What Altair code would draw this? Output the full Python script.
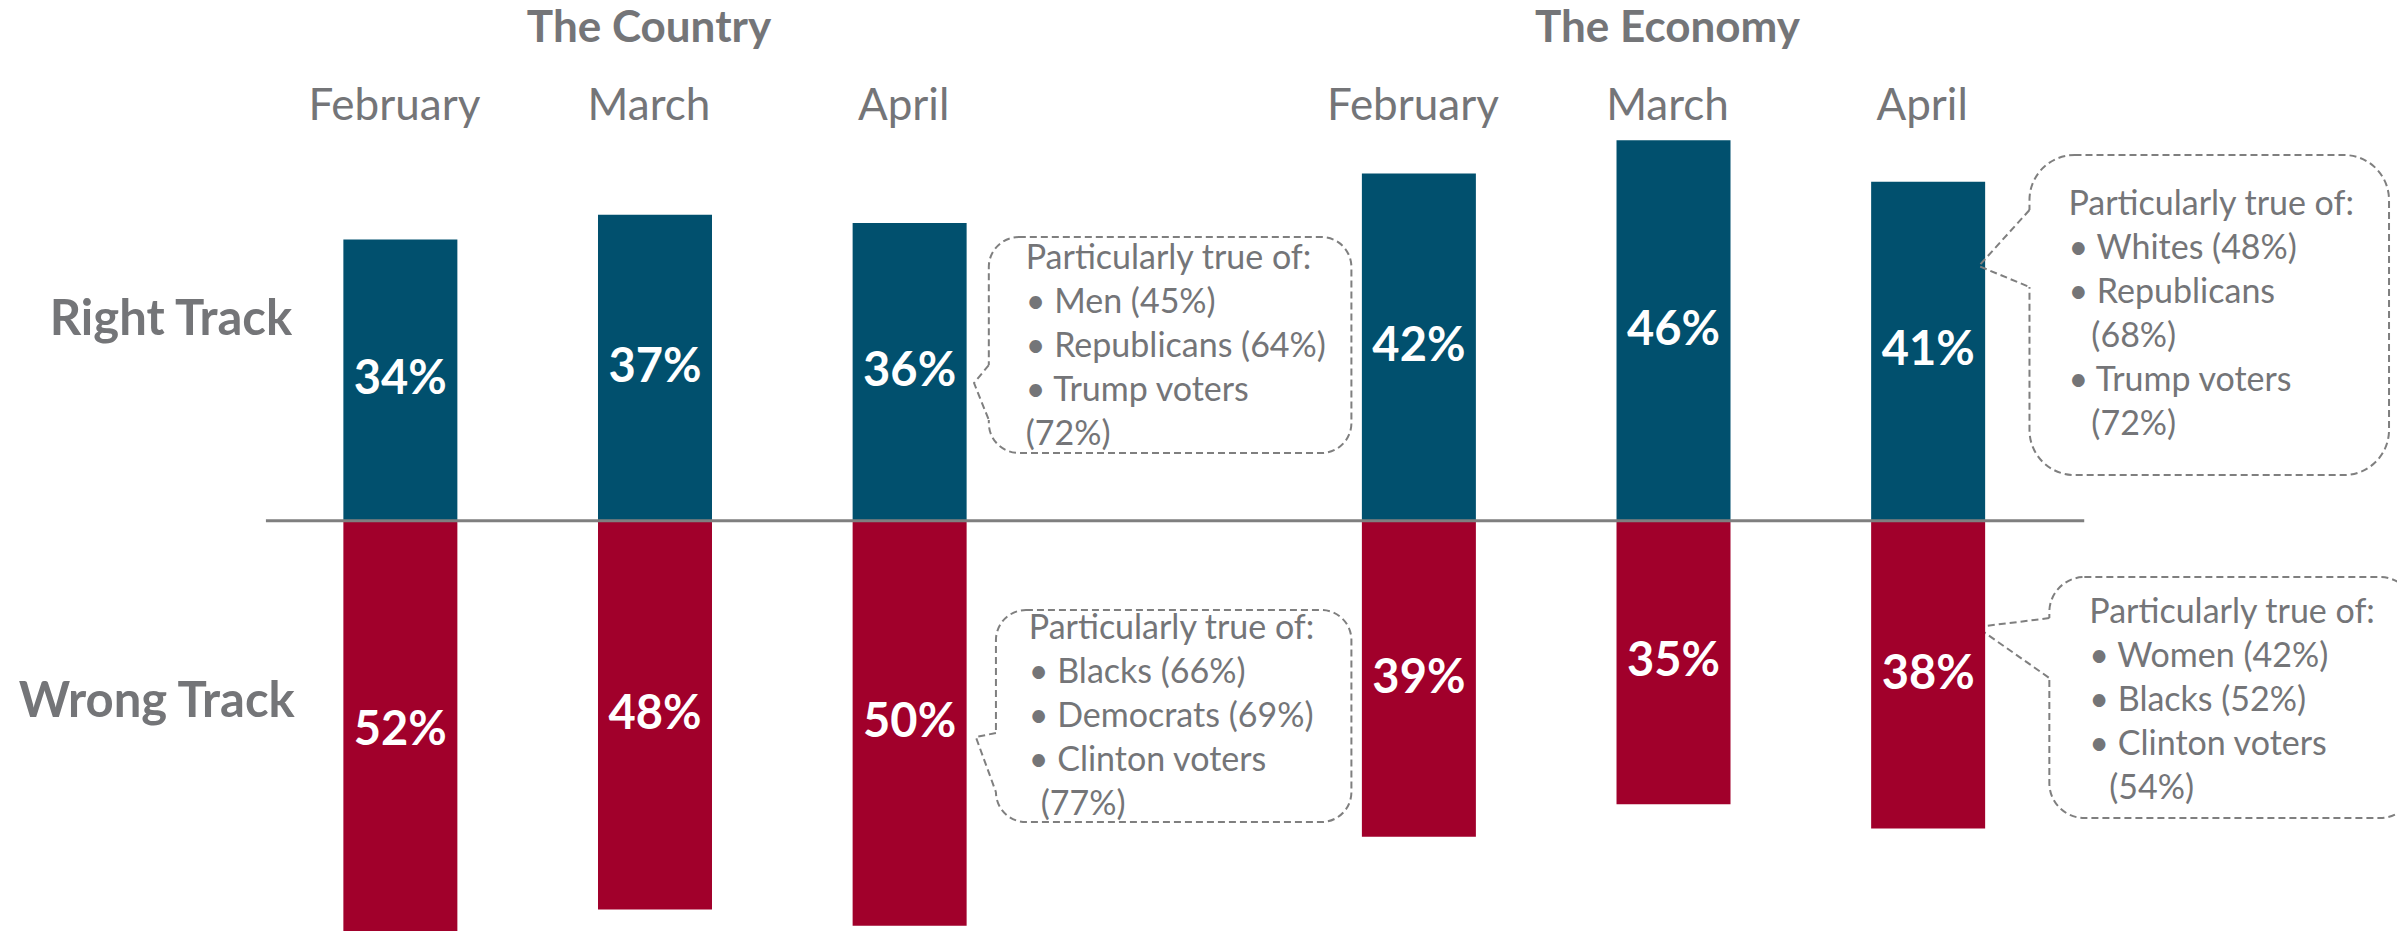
import altair as alt
import pandas as pd

# ---------------- data ----------------
months = ["February", "March", "April"]
groups = ["The Country", "The Economy"]
country_right = [34, 37, 36]
country_wrong = [52, 48, 50]
economy_right = [42, 46, 41]
economy_wrong = [39, 35, 38]
row_labels = ["Right Track", "Wrong Track"]

# callout lines; (text, indented continuation?)
callout_country_right = [("Particularly true of:", False), ("• Men (45%)", False), ("• Republicans (64%)", False),
                         ("• Trump voters", False), ("(72%)", False)]
callout_country_wrong = [("Particularly true of:", False), ("• Blacks (66%)", False), ("• Democrats (69%)", False),
                         ("• Clinton voters", False), ("(77%)", True)]
callout_economy_right = [("Particularly true of:", False), ("• Whites (48%)", False), ("• Republicans", False),
                         ("(68%)", True), ("• Trump voters", False), ("(72%)", True)]
callout_economy_wrong = [("Particularly true of:", False), ("• Women (42%)", False), ("• Blacks (52%)", False),
                         ("• Clinton voters", False), ("(54%)", True)]

# slot index of each bar (slot 3 is the gap between the two groups)
country_slots = [0, 1, 2]
economy_slots = [4, 5, 6]

# ---------------- style ----------------
BLUE = "#01506E"
RED = "#A1002B"
GRAY_TXT = "#747578"
GRAY_LINE = "#7F7F7F"
BOX_LINE = "#7F7F7F"
FONT = "Lato"
W, H = 2389, 923
PX_PER_SLOT = 255.7
PX_PER_PCT = 8.27
LINE_H = 44.0

xs = alt.Scale(domain=[-1.5213, 7.8217], nice=False, zero=False)
ysA = alt.Scale(domain=[-49.61, 62.0], nice=False, zero=False)   # right-track scale
ysB = alt.Scale(domain=[-50.65, 63.30], nice=False, zero=False)  # wrong-track scale


def xq(f):
    return alt.X(f, type="quantitative", scale=xs, axis=None)


def yA(f):
    return alt.Y(f, type="quantitative", scale=ysA, axis=None)


def yB(f):
    return alt.Y(f, type="quantitative", scale=ysB, axis=None)


# ---------------- tables ----------------
right_df = pd.DataFrame({
    "slot": country_slots + economy_slots,
    "value": country_right + economy_right,
    "month": months * 2,
})
right_df["zero"] = 0
right_df["label"] = right_df["value"].astype(str) + "%"

wrong_df = pd.DataFrame({
    "slot": country_slots + economy_slots,
    "value": country_wrong + economy_wrong,
    "month": months * 2,
})
wrong_df["zero"] = 0
wrong_df["label"] = wrong_df["value"].astype(str) + "%"

# ---------------- right track layer ----------------
right_bars = alt.Chart(right_df).mark_bar(size=114, color=BLUE, orient="vertical").encode(
    x=xq("slot"), y=yA("value"), y2="zero:Q"
)
right_text = alt.Chart(right_df).transform_calculate(mid="datum.value / 2").mark_text(
    font=FONT, fontSize=47, fontWeight="bold", color="white", baseline="middle", align="center"
).encode(x=xq("slot"), y=yA("mid"), text="label:N")

zero_df = pd.DataFrame({"x": [-0.528], "x2": [6.613], "y": [0]})
zero_rule = alt.Chart(zero_df).mark_rule(color=GRAY_LINE, strokeWidth=3).encode(
    x=xq("x"), x2="x2:Q", y=yA("y")
)

title_df = pd.DataFrame({"slot": [1, 5], "text": groups, "y": [57.9, 57.9]})
titles = alt.Chart(title_df).mark_text(
    font=FONT, fontSize=44, fontWeight="bold", color=GRAY_TXT, align="center", baseline="alphabetic", dx=-6
).encode(x=xq("slot"), y=yA("y"), text="text:N")

month_df = pd.DataFrame({"slot": country_slots + economy_slots, "text": months * 2, "y": [48.45] * 6})
month_text = alt.Chart(month_df).mark_text(
    font=FONT, fontSize=44, color=GRAY_TXT, align="center", baseline="alphabetic", dx=-6
).encode(x=xq("slot"), y=yA("y"), text="text:N")

row_df = pd.DataFrame({"x": [-0.425, -0.415], "y": [22.45, -23.74], "text": row_labels})
row_text = alt.Chart(row_df).mark_text(
    font=FONT, fontSize=49, fontWeight="bold", color=GRAY_TXT, align="right", baseline="alphabetic"
).encode(x=xq("x"), y=yA("y"), text="text:N")

# callout boxes (positions in chart data units: slot, percent)
boxes = [
    dict(x0=2.311, x1=3.735, top=34.30, bot=8.19, r=30,
         ptr=[(2.311, 18.83), (2.253, 16.65), (2.311, 12.18)], tx=2.456, ty=30.42,
         lines=callout_country_right, indent=0),
    dict(x0=2.339, x1=3.735, top=-10.80, bot=-36.43, r=30,
         ptr=[(2.339, -25.67), (2.260, -26.15), (2.339, -32.81)], tx=2.468, ty=-14.30,
         lines=callout_country_wrong, indent=12),
    dict(x0=6.398, x1=7.810, top=44.22, bot=5.53, r=45,
         ptr=[(6.398, 37.57), (6.199, 30.80), (6.398, 28.26)], tx=6.551, ty=36.96,
         lines=callout_economy_right, indent=23),
    dict(x0=6.476, x1=7.912, top=-6.81, bot=-35.95, r=35,
         ptr=[(6.476, -11.77), (6.191, -12.86), (6.476, -19.02)], tx=6.633, ty=-12.37,
         lines=callout_economy_wrong, indent=20),
]

callout_layers = []
text_rows = []
for i, b in enumerate(boxes):
    rect_df = pd.DataFrame({"x": [b["x0"]], "x2": [b["x1"]], "y": [b["bot"]], "y2": [b["top"]]})
    rect = alt.Chart(rect_df).mark_rect(
        cornerRadius=b["r"], fill="white", stroke=BOX_LINE, strokeWidth=2, strokeDash=[7, 4]
    ).encode(x=xq("x"), x2="x2:Q", y=yA("y"), y2="y2:Q")
    gap_df = pd.DataFrame({"x": [b["ptr"][0][0]], "y": [b["ptr"][0][1]], "y2": [b["ptr"][2][1]]})
    gap = alt.Chart(gap_df).mark_rule(color="white", strokeWidth=6).encode(
        x=xq("x"), y=yA("y"), y2="y2:Q"
    )
    ptr_df = pd.DataFrame({
        "x": [p[0] for p in b["ptr"]],
        "y": [p[1] for p in b["ptr"]],
        "o": [0, 1, 2],
    })
    ptr = alt.Chart(ptr_df).mark_line(color=BOX_LINE, strokeWidth=2, strokeDash=[7, 4]).encode(
        x=xq("x"), y=yA("y"), order="o:Q"
    )
    callout_layers += [rect, gap, ptr]
    for k, (t, ind) in enumerate(b["lines"]):
        text_rows.append({
            "x": b["tx"] + (b["indent"] / PX_PER_SLOT if ind else 0.0),
            "y": b["ty"] - k * LINE_H / PX_PER_PCT,
            "text": t,
        })

callout_text = alt.Chart(pd.DataFrame(text_rows)).mark_text(
    font=FONT, fontSize=34, color=GRAY_TXT, align="left", baseline="alphabetic"
).encode(x=xq("x"), y=yA("y"), text="text:N")

layer_a = alt.layer(right_bars, right_text, titles, month_text, row_text, *callout_layers, callout_text)

# ---------------- wrong track layer ----------------
wrong_bars = alt.Chart(wrong_df).transform_calculate(neg="-datum.value").mark_bar(
    size=114, color=RED, orient="vertical"
).encode(x=xq("slot"), y=yB("neg"), y2="zero:Q")
wrong_text = alt.Chart(wrong_df).transform_calculate(mid="-datum.value / 2").mark_text(
    font=FONT, fontSize=47, fontWeight="bold", color="white", baseline="middle", align="center"
).encode(x=xq("slot"), y=yB("mid"), text="label:N")

layer_b = alt.layer(wrong_bars, wrong_text)

chart = alt.layer(layer_a, layer_b, alt.layer(zero_rule)).resolve_scale(y="independent").properties(
    width=W, height=H, padding=0, autosize=alt.AutoSizeParams(type="none")
).configure_view(stroke=None)

chart.save("out.html", embed_options={"renderer": "svg", "actions": False})
